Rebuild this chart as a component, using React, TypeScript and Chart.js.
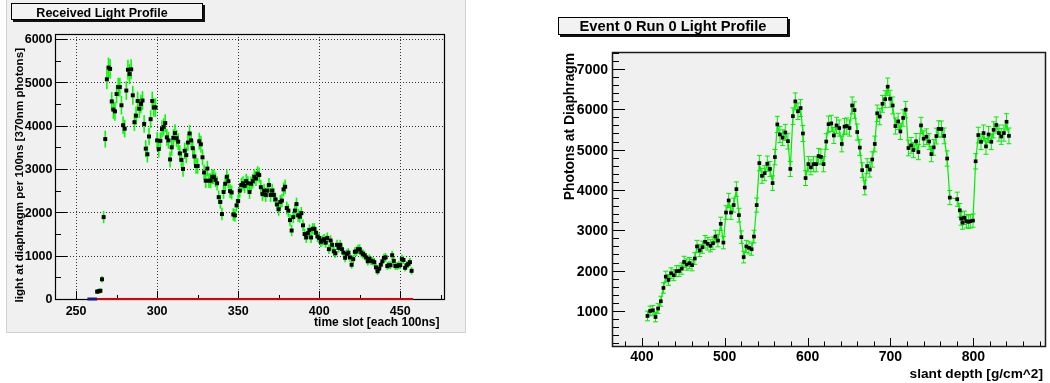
import React, { useEffect, useRef } from "react";
import { Chart, registerables } from "chart.js";

Chart.register(...registerables);

// ---------------- Left panel data: Received Light Profile ----------------
const leftSlots = [
  263, 264, 265, 266, 267, 268, 269, 270, 271, 272,
  273, 274, 275, 276, 277, 278, 279, 280, 281, 282,
  283, 284, 285, 286, 287, 288, 289, 290, 291, 292,
  293, 294, 295, 296, 297, 298, 299, 300, 301, 302,
  303, 304, 305, 306, 307, 308, 309, 310, 311, 312,
  313, 314, 315, 316, 317, 318, 319, 320, 321, 322,
  323, 324, 325, 326, 327, 328, 329, 330, 331, 332,
  333, 334, 335, 336, 337, 338, 339, 340, 341, 342,
  343, 344, 345, 346, 347, 348, 349, 350, 351, 352,
  353, 354, 355, 356, 357, 358, 359, 360, 361, 362,
  363, 364, 365, 366, 367, 368, 369, 370, 371, 372,
  373, 374, 375, 376, 377, 378, 379, 380, 381, 382,
  383, 384, 385, 386, 387, 388, 389, 390, 391, 392,
  393, 394, 395, 396, 397, 398, 399, 400, 401, 402,
  403, 404, 405, 406, 407, 408, 409, 410, 411, 412,
  413, 414, 415, 416, 417, 418, 419, 420, 421, 422,
  423, 424, 425, 426, 427, 428, 429, 430, 431, 432,
  433, 434, 435, 436, 437, 438, 439, 440, 441, 442,
  443, 444, 445, 446, 447, 448, 449, 450, 451, 452,
  453, 454, 455, 456, 457,
];

const leftLight = [
  170, 180, 190, 455, 1890, 3690, 5070, 5340, 5310, 4560,
  4370, 4330, 4730, 4890, 4890, 4470, 4010, 3930, 4810, 5290,
  5190, 5300, 4700, 4080, 4230, 4570, 4390, 4500, 4580, 4040,
  3470, 3340, 3750, 4150, 4570, 4420, 4420, 3660, 3460, 3650,
  3920, 3970, 4060, 3730, 3660, 3220, 3500, 3720, 3830, 3710,
  3630, 3360, 3210, 3000, 3420, 3320, 3610, 3820, 3660, 3480,
  3290, 3070, 3070, 3640, 3570, 3270, 2920, 2730, 3010, 2730,
  2730, 2820, 2820, 2750, 2670, 2350, 2240, 1960, 2470, 2660,
  2820, 2720, 2490, 2460, 1950, 1930, 2160, 2260, 2500, 2630,
  2670, 2610, 2720, 2670, 2470, 2660, 2720, 2820, 2780, 2890,
  2860, 2580, 2420, 2500, 2400, 2500, 2630, 2400, 2500, 2400,
  2300, 2180, 2070, 2240, 2270, 2530, 2590, 2100, 2040, 1820,
  1580, 1890, 2040, 2190, 1930, 1900, 1980, 1700, 1500, 1420,
  1520, 1590, 1420, 1620, 1620, 1530, 1440, 1410, 1320, 1350,
  1380, 1300, 1410, 1150, 1350, 1250, 1100, 1055, 1250, 1180,
  1250, 1150, 1070, 950, 1040, 1070, 960, 790, 920, 1090,
  1100, 1150, 1150, 1070, 1040, 1010, 960, 870, 930, 880,
  870, 850, 730, 640, 700, 790, 870, 950, 960, 760,
  780, 780, 1010, 880, 760, 760, 780, 780, 920, 900,
  720, 780, 810, 850, 650,
];

const leftErr = [
  55, 55, 55, 75, 140, 195, 230, 230, 230, 215,
  215, 215, 215, 215, 215, 215, 205, 200, 215, 230,
  230, 230, 215, 205, 210, 215, 215, 215, 215, 205,
  195, 190, 200, 205, 215, 215, 215, 195, 195, 195,
  200, 200, 205, 195, 195, 185, 195, 195, 200, 195,
  195, 190, 185, 180, 190, 185, 195, 200, 195, 190,
  185, 180, 180, 195, 195, 185, 175, 170, 180, 170,
  170, 170, 170, 170, 165, 155, 155, 145, 160, 165,
  170, 170, 160, 160, 145, 145, 150, 155, 160, 165,
  165, 165, 170, 165, 160, 165, 170, 170, 170, 175,
  175, 165, 160, 160, 160, 160, 165, 160, 160, 160,
  155, 150, 150, 155, 155, 160, 165, 150, 150, 140,
  130, 140, 150, 150, 145, 140, 145, 135, 125, 125,
  125, 130, 125, 130, 130, 125, 125, 125, 120, 120,
  120, 120, 125, 110, 120, 115, 110, 105, 115, 110,
  115, 110, 105, 100, 105, 105, 100, 90, 100, 105,
  110, 110, 110, 105, 105, 105, 100, 95, 100, 95,
  95, 95, 90, 85, 85, 90, 95, 100, 100, 90,
  90, 90, 105, 95, 90, 90, 90, 90, 100, 95,
  85, 90, 90, 95, 85,
];

// zero-level histograms drawn along the axis
const blueSlots = [257, 263];
const blueValues = [0, 0];
const redSlots = [263, 458];
const redValues = [0, 0];

const leftXTicks = [250, 300, 350, 400, 450];
const leftYTicks = [0, 1000, 2000, 3000, 4000, 5000, 6000];

// ---------------- Right panel data: Event 0 Run 0 Light Profile ----------------
const rightDepth = [
  406.8, 410.0, 413.3, 416.5, 419.6, 422.9, 426.1, 428.9, 432.2, 435.3,
  438.6, 441.8, 444.9, 448.2, 451.0, 454.2, 457.5, 460.6, 463.9, 466.6,
  469.9, 473.1, 476.3, 479.5, 482.8, 485.9, 488.8, 491.9, 495.2, 498.4,
  501.6, 504.8, 507.6, 510.8, 514.1, 517.2, 520.1, 522.9, 526.1, 529.3,
  532.5, 535.3, 538.6, 541.8, 545.0, 548.2, 551.4, 554.6, 557.8, 560.6,
  563.5, 566.6, 569.9, 573.1, 576.3, 579.2, 582.3, 585.2, 588.4, 591.6,
  594.4, 597.6, 600.9, 604.0, 607.2, 610.5, 613.3, 616.1, 619.3, 622.5,
  625.3, 628.6, 631.7, 635.0, 638.2, 641.3, 644.6, 647.3, 650.6, 653.8,
  656.6, 659.9, 663.0, 665.9, 669.0, 671.9, 675.1, 678.0, 681.1, 684.0,
  687.1, 690.4, 693.6, 696.7, 699.6, 702.7, 706.0, 709.3, 712.0, 715.3,
  718.4, 721.7, 724.9, 727.7, 730.9, 733.7, 736.9, 740.1, 743.4, 746.6,
  749.4, 752.2, 755.4, 758.2, 761.5, 764.8, 768.4, 771.6, 780.6, 783.7,
  785.3, 786.9, 789.2, 791.6, 794.0, 796.4, 799.6, 802.8, 806.0, 809.3,
  812.4, 815.3, 818.4, 821.7, 824.5, 827.7, 830.9, 833.7, 836.9, 840.1,
  843.0,
];

const rightPhotons = [
  876, 1000, 1017, 850, 1060, 1240, 1570, 1850, 1770, 1935,
  1885, 1985, 1990, 2050, 2215, 2150, 2185, 2135, 2300, 2600,
  2500, 2580, 2715, 2665, 2615, 2680, 2845, 2745, 3160, 2695,
  3440, 3740, 3440, 3625, 4020, 3375, 2830, 2335, 2600, 2565,
  2530, 2845, 3625, 4665, 4350, 4415, 4650, 4520, 4170, 4815,
  5625, 5375, 5295, 5425, 5210, 4520, 5830, 6195, 5950, 6030,
  5400, 4295, 4640, 4560, 4640, 4640, 4840, 4820, 4640, 5200,
  5630, 5650, 5350, 5600, 5535, 5140, 5570, 5585, 5535, 6095,
  5980, 5435, 5050, 4490, 4060, 4590, 4505, 4755, 5140, 5900,
  5820, 6135, 6250, 6560, 6260, 6095, 5585, 5700, 5450, 5785,
  5990, 5040, 5105, 4990, 5205, 4940, 5600, 5270, 5320, 5200,
  4890, 5055, 5335, 5515, 5510, 5340, 4780, 3810, 3770, 3495,
  3290, 3190, 3310, 3225, 3210, 3225, 3240, 4710, 5360, 5195,
  5410, 5080, 5375, 5195, 5490, 5610, 5410, 5325, 5410, 5690,
  5340,
];

const rightErr = [
  120, 120, 120, 120, 120, 125, 130, 135, 135, 135,
  135, 135, 135, 140, 140, 140, 140, 140, 145, 150,
  150, 150, 155, 155, 150, 155, 155, 155, 165, 155,
  170, 175, 170, 175, 180, 170, 155, 145, 150, 150,
  150, 155, 175, 190, 185, 185, 190, 185, 180, 190,
  200, 200, 195, 200, 195, 185, 205, 210, 205, 210,
  200, 185, 190, 185, 190, 190, 190, 190, 190, 195,
  200, 200, 200, 200, 200, 195, 200, 200, 200, 210,
  205, 200, 195, 185, 180, 185, 185, 190, 195, 205,
  205, 210, 210, 215, 210, 210, 200, 200, 200, 205,
  205, 195, 195, 190, 195, 190, 200, 195, 195, 195,
  190, 195, 195, 200, 200, 195, 190, 175, 175, 170,
  165, 165, 165, 165, 165, 165, 165, 190, 195, 195,
  200, 195, 200, 195, 200, 200, 200, 195, 200, 200,
  195,
];

const rightXTicks = [400, 500, 600, 700, 800];
const rightYTicks = [1000, 2000, 3000, 4000, 5000, 6000, 7000];

// ---------------- drawing helpers ----------------
const FONT = "'Liberation Sans', Arial, Helvetica, sans-serif";

function steps(a: number, b: number, s: number): number[] {
  const out: number[] = [];
  for (let v = a; v <= b + 1e-9; v += s) out.push(Math.round(v * 1000) / 1000);
  return out;
}

type PanelCfg = {
  pad?: { x: number; y: number; w: number; h: number };
  plotFill: string;
  frameWidth: number;
  frameColor: string;
  grid: boolean;
  xMajor: number[];
  xMinor: number[];
  yMajor: number[];
  yMinor: number[];
  xMajLen: number;
  xMinLen: number;
  yMajLen: number;
  yMinLen: number;
  tickFont: number;
  yLabelRight: number;
  xLabelBase: number;
  title: { text: string; x: number; y: number; w: number; h: number; size: number; cx: number; base: number };
  xTitle: { text: string; right: number; base: number; size: number };
  yTitle: { text: string; base: number; top: number; size: number };
  errWidth: number;
  capHalf: number;
  errColor: string;
};

function makePanelPlugin(p: PanelCfg) {
  return {
    id: "panelDeco",
    beforeDraw(chart: any) {
      const { ctx, chartArea: a, width, height } = chart;
      ctx.save();
      ctx.fillStyle = "#ffffff";
      ctx.fillRect(0, 0, width, height);
      if (p.pad) {
        ctx.fillStyle = "#f0f0f0";
        ctx.fillRect(p.pad.x, p.pad.y, p.pad.w, p.pad.h);
        ctx.strokeStyle = "#d0d0d0";
        ctx.lineWidth = 1;
        ctx.beginPath();
        ctx.moveTo(p.pad.x + 0.5, p.pad.y);
        ctx.lineTo(p.pad.x + 0.5, p.pad.y + p.pad.h - 0.5);
        ctx.lineTo(p.pad.x + p.pad.w - 0.5, p.pad.y + p.pad.h - 0.5);
        ctx.lineTo(p.pad.x + p.pad.w - 0.5, p.pad.y);
        ctx.stroke();
      }
      ctx.fillStyle = p.plotFill;
      ctx.fillRect(a.left, a.top, a.right - a.left, a.bottom - a.top);
      ctx.restore();
    },
    beforeDatasetsDraw(chart: any) {
      const { ctx, chartArea: a, scales } = chart;
      const xs = scales.x;
      const ys = scales.y;
      ctx.save();
      if (p.grid) {
        ctx.strokeStyle = "#333333";
        ctx.lineWidth = 1;
        ctx.setLineDash([1, 2]);
        for (const v of p.xMajor) {
          const x = Math.round(xs.getPixelForValue(v)) + 0.5;
          ctx.beginPath();
          ctx.moveTo(x, a.top);
          ctx.lineTo(x, a.bottom);
          ctx.stroke();
        }
        for (const v of p.yMajor) {
          const yy = ys.getPixelForValue(v);
          if (yy >= a.bottom - 1) continue;
          const y = Math.round(yy) + 0.5;
          ctx.beginPath();
          ctx.moveTo(a.left, y);
          ctx.lineTo(a.right, y);
          ctx.stroke();
        }
        ctx.setLineDash([]);
      }
      // ticks (drawn inside the frame)
      ctx.strokeStyle = "#000000";
      ctx.lineWidth = 1;
      const tickX = (vals: number[], len: number) => {
        for (const v of vals) {
          const px = xs.getPixelForValue(v);
          if (px < a.left - 0.5 || px > a.right + 0.5) continue;
          const x = Math.round(px) + 0.5;
          ctx.beginPath();
          ctx.moveTo(x, a.bottom);
          ctx.lineTo(x, a.bottom - len);
          ctx.stroke();
        }
      };
      const tickY = (vals: number[], len: number) => {
        for (const v of vals) {
          const py = ys.getPixelForValue(v);
          if (py < a.top - 0.5 || py > a.bottom + 0.5) continue;
          const y = Math.round(py) + 0.5;
          ctx.beginPath();
          ctx.moveTo(a.left, y);
          ctx.lineTo(a.left + len, y);
          ctx.stroke();
        }
      };
      tickX(p.xMinor, p.xMinLen);
      tickX(p.xMajor, p.xMajLen);
      tickY(p.yMinor, p.yMinLen);
      tickY(p.yMajor, p.yMajLen);
      // frame
      ctx.strokeStyle = p.frameColor;
      ctx.lineWidth = p.frameWidth;
      ctx.strokeRect(a.left + 0.5, a.top + 0.5, a.right - a.left, a.bottom - a.top);
      // error bars
      ctx.beginPath();
      ctx.rect(a.left, a.top, a.right - a.left, a.bottom - a.top);
      ctx.clip();
      ctx.strokeStyle = p.errColor;
      ctx.lineWidth = p.errWidth;
      chart.data.datasets.forEach((ds: any) => {
        if (!ds.errs) return;
        ds.data.forEach((pt: any, j: number) => {
          const e = ds.errs[j];
          const x = xs.getPixelForValue(pt.x);
          const y1 = ys.getPixelForValue(pt.y + e);
          const y2 = ys.getPixelForValue(pt.y - e);
          ctx.beginPath();
          ctx.moveTo(x, y1);
          ctx.lineTo(x, y2);
          if (p.capHalf > 0) {
            ctx.moveTo(x - p.capHalf, y1);
            ctx.lineTo(x + p.capHalf, y1);
            ctx.moveTo(x - p.capHalf, y2);
            ctx.lineTo(x + p.capHalf, y2);
          }
          ctx.stroke();
        });
      });
      ctx.restore();
    },
    afterDraw(chart: any) {
      const { ctx, scales } = chart;
      const xs = scales.x;
      const ys = scales.y;
      ctx.save();
      ctx.fillStyle = "#000000";
      // tick labels
      ctx.font = `bold ${p.tickFont}px ${FONT}`;
      const cap = p.tickFont * 0.716;
      ctx.textAlign = "right";
      ctx.textBaseline = "alphabetic";
      for (const v of p.yMajor) {
        ctx.fillText(String(v), p.yLabelRight, ys.getPixelForValue(v) + cap / 2);
      }
      ctx.textAlign = "center";
      for (const v of p.xMajor) {
        ctx.fillText(String(v), xs.getPixelForValue(v), p.xLabelBase);
      }
      // axis titles
      ctx.font = `bold ${p.xTitle.size}px ${FONT}`;
      ctx.textAlign = "right";
      ctx.fillText(p.xTitle.text, p.xTitle.right, p.xTitle.base);
      ctx.save();
      ctx.font = `bold ${p.yTitle.size}px ${FONT}`;
      ctx.translate(p.yTitle.base, p.yTitle.top);
      ctx.rotate(-Math.PI / 2);
      ctx.textAlign = "right";
      ctx.fillText(p.yTitle.text, 0, 0);
      ctx.restore();
      // title box with shadow
      const t = p.title;
      ctx.fillStyle = "#111111";
      ctx.fillRect(t.x + 2, t.y + 2, t.w, t.h);
      ctx.fillStyle = "#f2f2f2";
      ctx.fillRect(t.x, t.y, t.w, t.h);
      ctx.strokeStyle = "#000000";
      ctx.lineWidth = 1;
      ctx.strokeRect(t.x + 0.5, t.y + 0.5, t.w - 1, t.h - 1);
      ctx.fillStyle = "#000000";
      ctx.font = `bold ${t.size}px ${FONT}`;
      ctx.textAlign = "center";
      ctx.fillText(t.text, t.cx, t.base);
      ctx.restore();
    },
  };
}

function leftConfig(): any {
  const deco: PanelCfg = {
    pad: { x: 6, y: 0, w: 460, h: 333 },
    plotFill: "#f0f0f0",
    frameWidth: 1.2,
    frameColor: "#000000",
    grid: true,
    xMajor: leftXTicks,
    xMinor: steps(250, 475, 25),
    yMajor: leftYTicks,
    yMinor: steps(500, 6000, 500),
    xMajLen: 8,
    xMinLen: 4,
    yMajLen: 12,
    yMinLen: 6,
    tickFont: 12.5,
    yLabelRight: 52.5,
    xLabelBase: 315,
    title: { text: "Received Light Profile", x: 11, y: 3, w: 192, h: 17, size: 12.5, cx: 102, base: 17 },
    xTitle: { text: "time slot [each 100ns]", right: 439.5, base: 326, size: 12 },
    yTitle: { text: "light at diaphragm per 100ns [370nm photons]", base: 22.5, top: 48, size: 11.6 },
    errWidth: 1.6,
    capHalf: 0,
    errColor: "#00ff00",
  };
  return {
    type: "scatter",
    data: {
      datasets: [
        {
          data: leftSlots.map((s, i) => ({ x: s, y: leftLight[i] })),
          errs: leftErr,
          showLine: false,
          pointStyle: "rect",
          pointRadius: 2.8,
          pointHoverRadius: 2.8,
          pointBackgroundColor: "#000000",
          pointBorderWidth: 0,
        },
        {
          data: redSlots.map((s, i) => ({ x: s, y: redValues[i] })),
          showLine: true,
          borderColor: "#dd0000",
          borderWidth: 2,
          pointRadius: 0,
          clip: false,
        },
        {
          data: blueSlots.map((s, i) => ({ x: s, y: blueValues[i] })),
          showLine: true,
          borderColor: "#1a1a80",
          borderWidth: 3,
          pointRadius: 0,
          clip: false,
        },
      ],
    },
    options: {
      animation: false,
      responsive: false,
      devicePixelRatio: 1,
      events: [],
      layout: { padding: { left: 55, top: 34, right: 76, bottom: 84 } },
      plugins: { legend: { display: false }, tooltip: { enabled: false } },
      scales: {
        x: { type: "linear", display: false, min: 237, max: 477 },
        y: { type: "linear", display: false, min: 0, max: 6115 },
      },
    },
    plugins: [makePanelPlugin(deco)],
  };
}

function rightConfig(): any {
  const deco: PanelCfg = {
    plotFill: "#f0f0f0",
    frameWidth: 1.5,
    frameColor: "#1a1a1a",
    grid: false,
    xMajor: rightXTicks,
    xMinor: steps(380, 880, 20),
    yMajor: rightYTicks,
    yMinor: steps(200, 7400, 200),
    xMajLen: 8,
    xMinLen: 4.5,
    yMajLen: 13,
    yMinLen: 7,
    tickFont: 14,
    yLabelRight: 88,
    xLabelBase: 361,
    title: { text: "Event 0 Run 0 Light Profile", x: 38, y: 17, w: 230, h: 18, size: 14.7, cx: 153, base: 31 },
    xTitle: { text: "slant depth [g/cm^2]", right: 523, base: 378, size: 13.7 },
    yTitle: { text: "Photons at Diaphragm", base: 53.5, top: 53, size: 13.8 },
    errWidth: 1,
    capHalf: 2.5,
    errColor: "#00ee00",
  };
  return {
    type: "scatter",
    data: {
      datasets: [
        {
          data: rightDepth.map((d, i) => ({ x: d, y: rightPhotons[i] })),
          errs: rightErr,
          showLine: true,
          borderColor: "#00ee00",
          borderWidth: 1.2,
          pointStyle: "rect",
          pointRadius: 2.6,
          pointHoverRadius: 2.6,
          pointBackgroundColor: "#000000",
          pointBorderWidth: 0,
        },
      ],
    },
    options: {
      animation: false,
      responsive: false,
      devicePixelRatio: 1,
      events: [],
      layout: { padding: { left: 92, top: 52, right: 5, bottom: 37 } },
      plugins: { legend: { display: false }, tooltip: { enabled: false } },
      scales: {
        x: { type: "linear", display: false, min: 364, max: 886.5 },
        y: { type: "linear", display: false, min: 131, max: 7420 },
      },
    },
    plugins: [makePanelPlugin(deco)],
  };
}

export default function App() {
  const leftRef = useRef<HTMLCanvasElement>(null);
  const rightRef = useRef<HTMLCanvasElement>(null);

  useEffect(() => {
    const c1 = new Chart(leftRef.current as HTMLCanvasElement, leftConfig());
    const c2 = new Chart(rightRef.current as HTMLCanvasElement, rightConfig());
    return () => {
      c1.destroy();
      c2.destroy();
    };
  }, []);

  return (
    <div style={{ position: "absolute", left: 0, top: 0, width: 1050, height: 383, background: "#ffffff" }}>
      <canvas
        ref={leftRef}
        width={520}
        height={383}
        style={{ position: "absolute", left: 0, top: 0, width: 520, height: 383 }}
      />
      <canvas
        ref={rightRef}
        width={530}
        height={383}
        style={{ position: "absolute", left: 520, top: 0, width: 530, height: 383 }}
      />
    </div>
  );
}
